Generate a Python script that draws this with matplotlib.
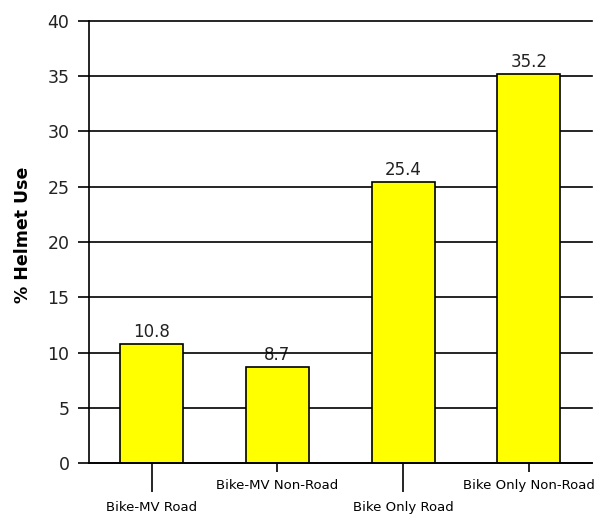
import matplotlib.pyplot as plt

# data
categories = ["Bike-MV Road", "Bike-MV Non-Road", "Bike Only Road", "Bike Only Non-Road"]
helmet_use = [10.8, 8.7, 25.4, 35.2]
value_labels = ["10.8", "8.7", "25.4", "35.2"]
y_ticks = [0, 5, 10, 15, 20, 25, 30, 35, 40]

fig = plt.figure(figsize=(5.97, 5.19), dpi=100)
ax = fig.add_axes([0.149, 0.1073, 0.842, 0.8528])

x = list(range(len(categories)))
ax.bar(x, helmet_use, width=0.5, color="#ffff00", edgecolor="black", linewidth=1.2, zorder=2)

# value labels above bars (gridlines drawn on top of them, like the original)
for xi, val, lab in zip(x, helmet_use, value_labels):
    ax.annotate(lab, (xi, val), xytext=(0, 2), textcoords="offset points",
                ha="center", va="bottom", fontsize=12, color="#222222", zorder=0.3)

ax.set_xlim(-0.5, 3.5)
ax.set_ylim(0, 40)
ax.set_yticks(y_ticks)
ax.set_yticklabels([str(t) for t in y_ticks], fontsize=12.5, color="#222222")
ax.tick_params(axis="y", length=8, width=1.2, pad=6)

ax.set_axisbelow(True)
ax.yaxis.grid(True, color="black", linewidth=1.2)
for gl in ax.get_ygridlines():
    gl.set_clip_on(False)

# alternating x labels: long ticks for the lower row, short ticks for the upper row
ax.set_xticks([0, 2])
ax.set_xticklabels([categories[0], categories[2]], fontsize=9.5)
ax.set_xticks([1, 3], minor=True)
ax.set_xticklabels([categories[1], categories[3]], minor=True, fontsize=9.5)
ax.tick_params(axis="x", which="major", length=21, width=1.2, pad=6)
ax.tick_params(axis="x", which="minor", length=6.5, width=1.2, pad=5)

ax.set_ylabel("% Helmet Use", fontsize=12.5, fontweight="bold")
ax.yaxis.set_label_coords(-0.113, 0.516)

for side in ["top", "right"]:
    ax.spines[side].set_visible(False)
ax.spines["left"].set_linewidth(1.2)
ax.spines["bottom"].set_linewidth(1.2)

plt.savefig("out.png", dpi=100)
